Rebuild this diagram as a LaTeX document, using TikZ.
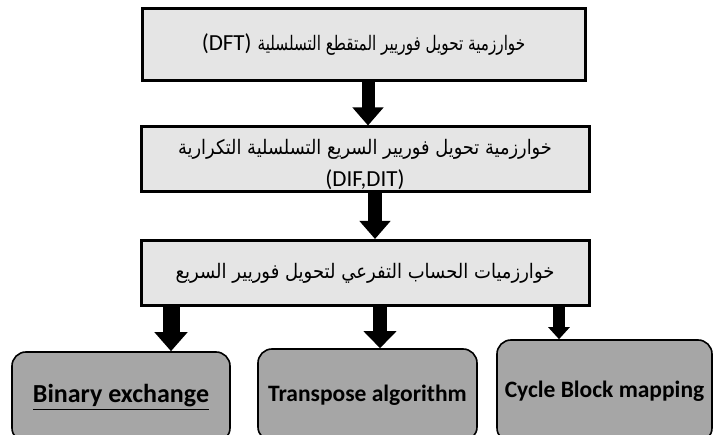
\documentclass[tikz,border=0pt]{standalone}
\usepackage{fontspec}
\usepackage{graphicx}
\usetikzlibrary{arrows.meta}
\TeXXeTstate=1
\newfontfamily\arabicfont[Script=Arabic]{DejaVu Sans}
\newfontfamily\calibri{Carlito}
\newcommand{\lat}[1]{{\calibri\fontsize{23}{32}\selectfont #1}}
\begin{document}
\begin{tikzpicture}[x=1pt,y=-1pt,
  stage/.style={draw=black, line width=3pt, fill=gray!20, align=center, inner sep=0pt,
    font=\fontsize{20}{32}\selectfont},
  method/.style={draw=black, line width=1.6pt, fill=black!35, rounded corners=14pt,
    inner sep=0pt},
  flow/.style={line width=13pt, -{Triangle[width=30pt,length=18pt]}}]
  \clip (0,0) rectangle (713,435);

  % sequential stages (Arabic runs condensed horizontally)
  \node[stage, minimum width=443pt, minimum height=72pt] (b1) at (363.5,45)
    {\lat{(DFT)} \scalebox{0.76}[1]{\arabicfont\beginR خوارزمية تحويل فوريير المتقطع التسلسلية\endR}};
  \node[stage, minimum width=448pt, minimum height=65pt] (b2) at (365,159.5)
    {\rule{0pt}{26pt}\scalebox{0.89}[1]{\arabicfont\beginR خوارزمية تحويل فوريير السريع التسلسلية التكرارية\endR}\\\lat{(DIF,DIT)}};
  \node[stage, minimum width=448pt, minimum height=65pt] (b3) at (365,273)
    {\scalebox{0.9}[1]{\arabicfont\beginR خوارزميات الحساب التفرعي لتحويل فوريير السريع\endR}};

  % parallel mappings
  \node[method, minimum width=218pt, minimum height=90pt,
    font=\calibri\bfseries\fontsize{26}{30}\selectfont] (ba) at (121,397)
    {\underline{Binary exchange}};
  \node[method, minimum width=219pt, minimum height=92pt,
    font=\calibri\bfseries\fontsize{23.5}{30}\selectfont] (bb) at (367.5,395)
    {Transpose algorithm};
  \node[method, minimum width=215pt, minimum height=102pt,
    font=\calibri\bfseries\fontsize{23.5}{30}\selectfont] (bc) at (604.5,391)
    {Cycle Block mapping};

  % connectors
  \draw[flow] (b1.south -| 368,0) -- (b2.north -| 368,0);
  \draw[flow, line width=14pt] (b2.south -| 375,0) -- (b3.north -| 375,0);
  \draw[line width=17pt, -{Triangle[width=32pt,length=19pt]}] (b3.south -| 171,0) -- (ba.north -| 171,0);
  \draw[line width=14pt, -{Triangle[width=32pt,length=17pt]}] (b3.south -| 380,0) -- (bb.north -| 380,0);
  \draw[line width=12pt, -{Triangle[width=21pt,length=12pt]}] (b3.south -| 559,0) -- (bc.north -| 559,0);
\end{tikzpicture}
\end{document}
